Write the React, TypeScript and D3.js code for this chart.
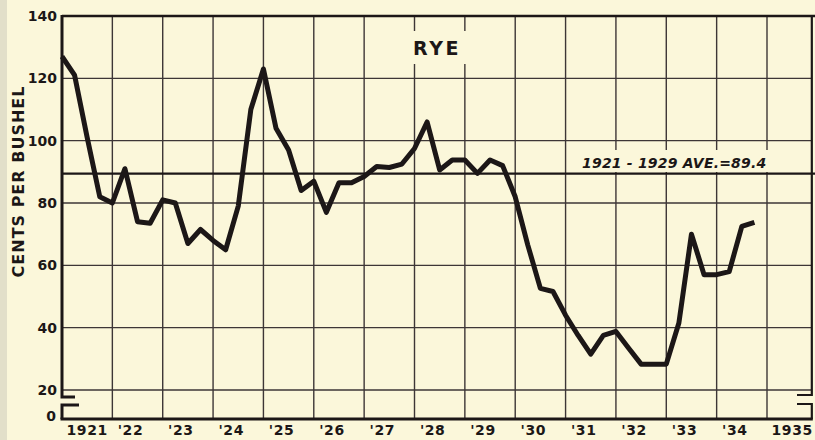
import React from "react";
import * as d3 from "d3";

// quarterly rye prices, cents per bushel, 1921 Q1 .. 1934 Q4
const startYear = 1921;
const ryePrices = [
  127, 121, 101, 82,
  80, 91, 74, 73.5,
  81, 80, 67, 71.5,
  68, 65, 79, 110,
  123, 104, 97, 84,
  87, 77, 86.5, 86.5,
  88.5, 91.7, 91.4, 92.5,
  97.5, 106, 90.6, 93.8,
  93.8, 89.5, 93.8, 92,
  82, 66.5, 52.6, 51.6,
  44, 37.5, 31.5, 37.5,
  38.8, 33.5, 28.3, 28.3,
  28.3, 41.5, 70, 57,
  57, 58, 72.5, 73.8,
];
const average = 89.4;
const averageLabel = "1921 - 1929 AVE.=89.4";
const yTicks = [20, 40, 60, 80, 100, 120, 140];
const yearLabels = [
  "1921", "'22", "'23", "'24", "'25", "'26", "'27", "'28",
  "'29", "'30", "'31", "'32", "'33", "'34", "1935",
];

const width = 815;
const height = 440;
const bg = "#fbf7da";
const ink = "#1c1717";
const grid = "#3d3636";
const font = "'DejaVu Sans', sans-serif";

export default function App() {
  const x = d3.scaleLinear().domain([1921, 1935]).range([62, 767]);
  const y = d3.scaleLinear().domain([20, 140]).range([390, 16]);
  const bottom = 419; // broken axis, zero line
  const left = x(1921);
  const right = x(1935.89);

  const line = d3
    .line<number>()
    .x((d, i) => x(startYear + i / 4))
    .y((d) => y(d));

  const years = d3.range(1922, 1936);

  return (
    <svg
      width={width}
      height={height}
      style={{ position: "absolute", left: 0, top: 0, background: bg }}
    >
      <rect width={width} height={height} fill={bg} />
      <rect width={7} height={height} fill="#e2dfc9" />

      {/* vertical grid */}
      {years.map((yr) => (
        <line
          key={yr}
          x1={x(yr)}
          x2={x(yr)}
          y1={y(140)}
          y2={bottom}
          stroke={grid}
          strokeWidth={1.4}
        />
      ))}

      {/* horizontal grid */}
      {yTicks.slice(0, -1).map((t) => (
        <line
          key={t}
          x1={left}
          x2={right}
          y1={y(t)}
          y2={y(t)}
          stroke={grid}
          strokeWidth={1.4}
        />
      ))}

      {/* title */}
      <rect x={406} y={31} width={64} height={33} fill={bg} />
      <text
        x={437}
        y={55}
        textAnchor="middle"
        fontFamily={font}
        fontWeight="bold"
        fontSize={19}
        letterSpacing={2.5}
        fill={ink}
      >
        RYE
      </text>

      {/* average line */}
      <rect x={577} y={150} width={196} height={22} fill={bg} />
      <line
        x1={left}
        x2={width}
        y1={y(average)}
        y2={y(average)}
        stroke={ink}
        strokeWidth={2.2}
      />
      <text
        x={582}
        y={168}
        fontFamily={font}
        fontWeight="bold"
        fontStyle="italic"
        fontSize={14}
        letterSpacing={0.2}
        fill={ink}
      >
        {averageLabel}
      </text>

      {/* frame */}
      <line x1={left} x2={width} y1={y(140)} y2={y(140)} stroke={ink} strokeWidth={2.6} />
      <line x1={left - 1.5} x2={right + 1} y1={bottom} y2={bottom} stroke={ink} strokeWidth={3} />
      <path
        d={`M${left},${y(140) - 1} V397 H75`}
        fill="none"
        stroke={ink}
        strokeWidth={3}
      />
      <path
        d={`M79,405 H${left} V${bottom}`}
        fill="none"
        stroke={ink}
        strokeWidth={3}
      />
      <path
        d={`M${right},${y(140)} V395 H797`}
        fill="none"
        stroke={ink}
        strokeWidth={2.2}
      />
      <path
        d={`M797,404 H${right} V${bottom}`}
        fill="none"
        stroke={ink}
        strokeWidth={2.2}
      />

      {/* data */}
      <path
        d={line(ryePrices) ?? ""}
        fill="none"
        stroke={ink}
        strokeWidth={5}
        strokeLinejoin="round"
        strokeLinecap="butt"
      />

      {/* y axis labels */}
      {yTicks.map((t) => (
        <text
          key={t}
          x={57}
          y={y(t)}
          dy="0.36em"
          textAnchor="end"
          fontFamily={font}
          fontWeight="bold"
          fontSize={14}
          fill={ink}
        >
          {t}
        </text>
      ))}
      <text
        x={56}
        y={bottom - 3}
        dy="0.36em"
        textAnchor="end"
        fontFamily={font}
        fontWeight="bold"
        fontSize={14}
        fill={ink}
      >
        0
      </text>
      <text
        transform={`translate(24,${(y(140) + bottom) / 2 - 36}) rotate(-90)`}
        textAnchor="middle"
        fontFamily={font}
        fontWeight="bold"
        fontSize={16}
        letterSpacing={1}
        fill={ink}
      >
        CENTS PER BUSHEL
      </text>

      {/* x axis labels */}
      {yearLabels.map((lab, i) => (
        <text
          key={lab}
          x={(x(startYear + i) + x(startYear + i + 1)) / 2}
          y={435}
          dx={lab.startsWith("'") ? -7 : 0}
          textAnchor="middle"
          fontFamily={font}
          fontWeight="bold"
          fontSize={14}
          letterSpacing={0.6}
          fill={ink}
        >
          {lab}
        </text>
      ))}
    </svg>
  );
}
